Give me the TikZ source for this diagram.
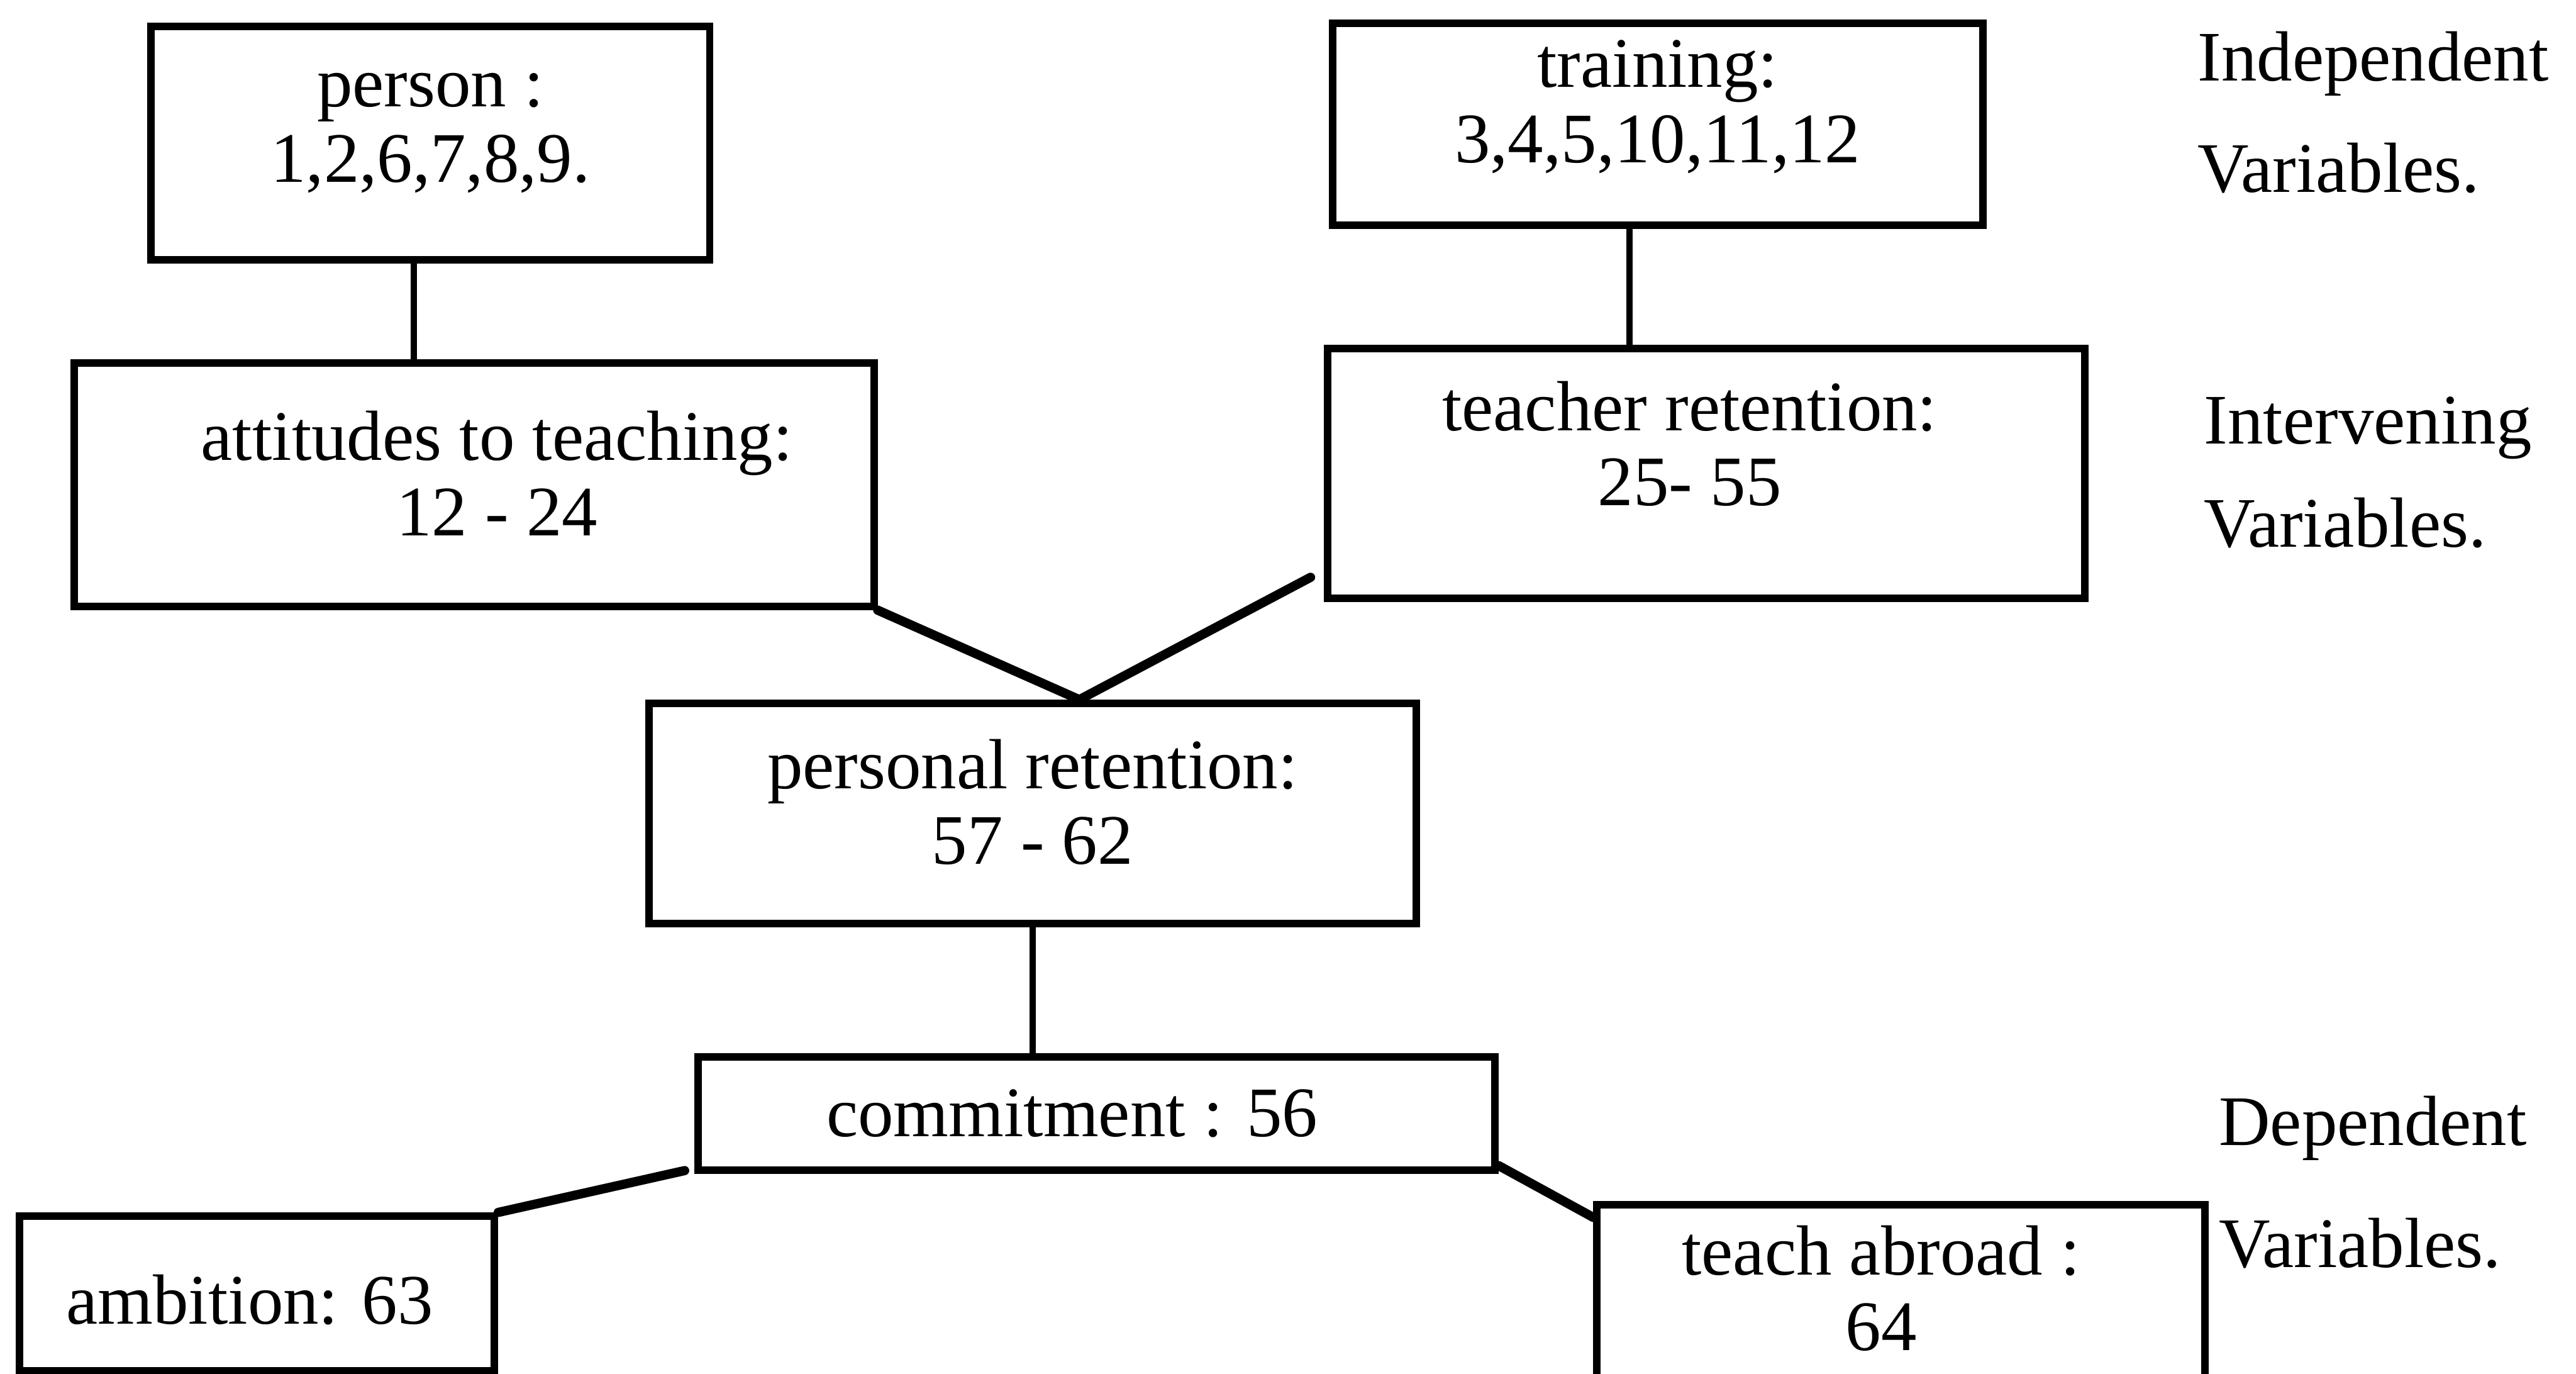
\documentclass[tikz,border=0pt]{standalone}
\usepackage{fontspec}
\setmainfont{Liberation Serif}
\usepackage{tikz}

\begin{document}
\begin{tikzpicture}[font=\fontsize{12.3}{13}\selectfont,line cap=round,
  box/.style={draw,line width=1.3pt,inner sep=0pt},
  txt/.style={align=center,inner sep=0pt},
  link/.style={line width=1.1pt},
  slant/.style={line width=1.6pt}]
\useasboundingbox (0,0) rectangle (15.68,8.36);
\clip (0,0) rectangle (15.68,8.36);
% boxes
\node[box,minimum width=3.40cm,minimum height=1.42cm] (person) at (2.62,7.49) {};
\node[box,minimum width=3.96cm,minimum height=1.23cm] (training) at (10.09,7.605) {};
\node[box,minimum width=4.87cm,minimum height=1.48cm] (attitudes) at (2.885,5.41) {};
\node[box,minimum width=4.61cm,minimum height=1.52cm] (teacher) at (10.385,5.48) {};
\node[box,minimum width=4.67cm,minimum height=1.34cm] (personal) at (6.285,3.41) {};
\node[box,minimum width=4.85cm,minimum height=0.69cm] (commit) at (6.675,1.585) {};
\node[box,minimum width=2.89cm,minimum height=0.94cm] (ambition) at (1.565,0.49) {};
\node[box,minimum width=3.70cm,minimum height=1.27cm] (abroad) at (11.57,0.395) {};
% texts
\node[txt] (person-t) at ([yshift=0.06cm]person.center) {person :\\1,2,6,7,8,9.};
\node[txt] (training-t) at ([yshift=0.105cm]training.center) {training:\\3,4,5,10,11,12};
\node[txt] (attitudes-t) at ([xshift=0.14cm,yshift=0.07cm]attitudes.center) {attitudes to teaching:\\12 - 24};
\node[txt] (teacher-t) at ([xshift=-0.10cm,yshift=0.18cm]teacher.center) {teacher retention:\\25- 55};
\node[txt] (personal-t) at ([yshift=0.07cm]personal.center) {personal retention:\\57 - 62};
\node[txt] (commit-t) at ([xshift=-0.15cm]commit.center) {commitment : 56};
\node[txt] (ambition-t) at ([xshift=-0.045cm,yshift=-0.04cm]ambition.center) {ambition: 63};
\node[txt] (abroad-t) at ([xshift=-0.12cm,yshift=0.125cm]abroad.center) {teach abroad :\\64};
% levels
\node[anchor=base west,inner sep=0pt] (indep1) at (13.37,7.87) {Independent};
\node[anchor=base west,inner sep=0pt] (indep2) at (13.37,7.19) {Variables.};
\node[anchor=base west,inner sep=0pt] (inter1) at (13.41,5.66) {Intervening};
\node[anchor=base west,inner sep=0pt] (inter2) at (13.41,5.03) {Variables.};
\node[anchor=base west,inner sep=0pt] (dep1) at (13.50,1.39) {Dependent};
\node[anchor=base west,inner sep=0pt] (dep2) at (13.50,0.65) {Variables.};
% links
\coordinate (apex) at ([xshift=0.285cm]personal.north);
\coordinate (tr-end) at ([xshift=-0.08cm,yshift=0.15cm]teacher.south west);
\draw[link] ([xshift=-0.10cm]person.south) -- ([xshift=-0.10cm]person.south |- attitudes.north);
\draw[link] ([xshift=-0.17cm]training.south) -- ([xshift=-0.17cm]training.south |- teacher.north);
\draw[slant] (attitudes.south east) -- (apex) -- (tr-end);
\draw[link] (personal.south) -- (personal.south |- commit.north);
\draw[slant] ([xshift=-0.06cm,yshift=0.02cm]commit.south west) -- (ambition.north east);
\draw[slant] ([yshift=0.05cm]commit.south east) -- ([yshift=-0.1cm]abroad.north west);
\end{tikzpicture}
\end{document}
